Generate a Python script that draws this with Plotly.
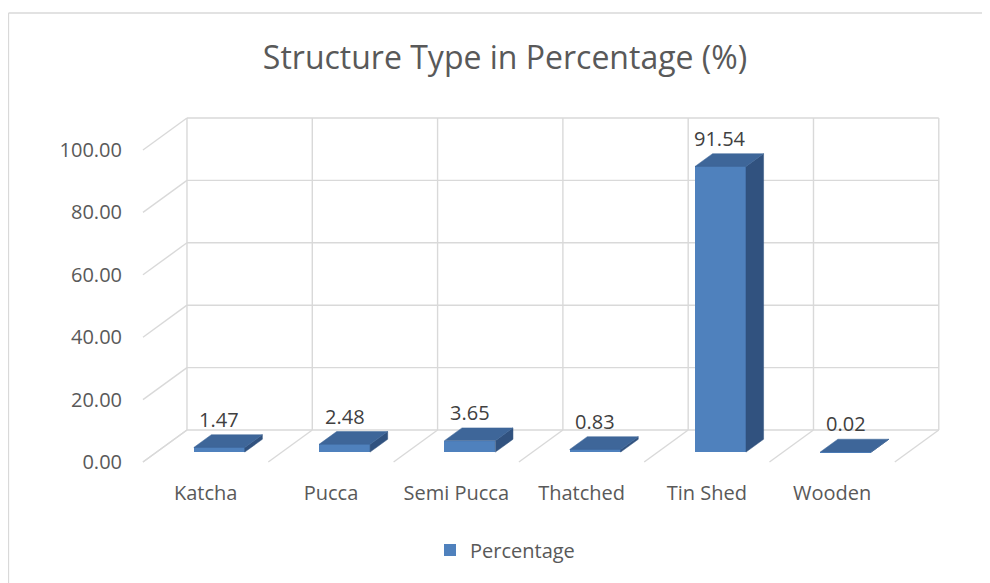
import plotly.graph_objects as go

# ---- data ----
categories = ["Katcha", "Pucca", "Semi Pucca", "Thatched", "Tin Shed", "Wooden"]
percentage = [1.47, 2.48, 3.65, 0.83, 91.54, 0.02]
y_ticks = [0, 20, 40, 60, 80, 100]
title_text = "Structure Type in Percentage (%)"
series_name = "Percentage"

# ---- 3D projection settings (oblique) ----
DX = 0.351      # depth offset in category units
DY = 10.26      # depth offset in value units
F0 = 0.31       # depth fraction of bar front face
F1 = 0.71       # depth fraction of bar back face
BW = 0.407      # bar width (category units)

GRID = "#D9D9D9"
FRONT = "#4F81BD"
TOP = "#3E6699"
SIDE = "#31527F"
TXT = "#595959"
FONT = "Open Sans"

OFF = 8  # page body margin
W, H = 990 - OFF, 583 - OFF

n = len(categories)
ymax = y_ticks[-1]

fig = go.Figure()

# gridlines (walls and floor) as below-layer shapes in data coordinates
shapes = []
def gl(xa, ya, xb, yb):
    shapes.append(dict(type="line", xref="x", yref="y", x0=xa, y0=ya, x1=xb, y1=yb,
                       layer="below", line=dict(color=GRID, width=1.4)))
for v in y_ticks:
    gl(DX, v + DY, n + DX, v + DY)   # back wall horizontal
    gl(0, v, DX, v + DY)             # left wall diagonal
for k in range(n + 1):
    gl(k + DX, DY, k + DX, ymax + DY)  # back wall vertical
    gl(k, 0, k + DX, DY)               # floor diagonal

# front faces as real bars
fig.add_trace(go.Bar(
    x=[i + 0.5 + F0 * DX for i in range(n)],
    y=percentage,
    base=[F0 * DY] * n,
    width=BW,
    marker=dict(color=FRONT, line=dict(width=0)),
    name=series_name,
    showlegend=True,
))

s = F1 - F0
for i, v in enumerate(percentage):
    xc = i + 0.5 + F0 * DX
    xl, xr = xc - BW / 2, xc + BW / 2
    b = F0 * DY
    t = b + v
    fig.add_trace(go.Scatter(
        x=[xr, xr + s * DX, xr + s * DX, xr, xr],
        y=[b, b + s * DY, t + s * DY, t, b],
        mode="lines", fill="toself", fillcolor=SIDE, line=dict(color=SIDE, width=0.5),
        hoverinfo="skip", showlegend=False))
    fig.add_trace(go.Scatter(
        x=[xl, xr, xr + s * DX, xl + s * DX, xl],
        y=[t, t, t + s * DY, t + s * DY, t],
        mode="lines", fill="toself", fillcolor=TOP, line=dict(color=TOP, width=0.5),
        hoverinfo="skip", showlegend=False))

# data labels
for i, v in enumerate(percentage):
    fig.add_annotation(
        x=i + 0.5 + F0 * DX, y=v + F1 * DY,
        text=f"{v:.2f}", showarrow=False, yanchor="bottom", xanchor="center",
        font=dict(family=FONT, size=20, color="#404040"), yshift=0)

# pixel geometry (reference coords minus page offset)
X0 = 143 - OFF      # front-left floor corner x
Y0 = 462 - OFF      # front floor y (value 0)
L, R, T, B = 122, 40, 97, 108
px_per_cat = 125.3
px_per_val = 3.12
xr0 = -(X0 - L) / px_per_cat
xr1 = (W - R - X0) / px_per_cat
yr0 = -((H - B) - Y0) / px_per_val
yr1 = (Y0 - T) / px_per_val
pw = W - L - R
ph = H - T - B

def px_x(p):
    return (p - OFF - L) / pw
def px_y(p):
    return ((H - B) - (p - OFF)) / ph

shapes += [
    dict(type="line", xref="paper", yref="paper",
         x0=px_x(8.5), x1=px_x(8.5), y0=px_y(13), y1=px_y(620),
         line=dict(color=GRID, width=1.3)),
    dict(type="line", xref="paper", yref="paper",
         x0=px_x(8.5), x1=px_x(1010), y0=px_y(13), y1=px_y(13),
         line=dict(color=GRID, width=1.3)),
]

fig.update_layout(
    width=W, height=H,
    margin=dict(l=L, r=R, t=T, b=B),
    paper_bgcolor="white", plot_bgcolor="white",
    font=dict(family=FONT, color=TXT),
    title=dict(text=title_text, x=(505 - OFF) / W, xref="container", xanchor="center",
               y=1 - (58 - OFF) / H, yref="container", yanchor="middle",
               font=dict(family=FONT, size=32, color=TXT)),
    xaxis=dict(range=[xr0, xr1], tickvals=[i + 0.5 for i in range(n)], ticktext=categories,
               showgrid=False, zeroline=False, showline=False,
               ticks="", ticklabelstandoff=4,
               tickfont=dict(family=FONT, size=20, color=TXT), fixedrange=True),
    yaxis=dict(range=[yr0, yr1], tickvals=y_ticks, ticktext=[f"{v:.2f}" for v in y_ticks],
               showgrid=False, zeroline=False, showline=False,
               ticks="outside", ticklen=3, tickcolor="rgba(0,0,0,0)",
               tickfont=dict(family=FONT, size=20, color=TXT), fixedrange=True),
    legend=dict(orientation="h", x=px_x(505), xanchor="center",
                y=px_y(550), yanchor="middle",
                font=dict(family=FONT, size=20, color=TXT)),
    bargap=0,
    shapes=shapes,
)

fig.write_html("out.html")
